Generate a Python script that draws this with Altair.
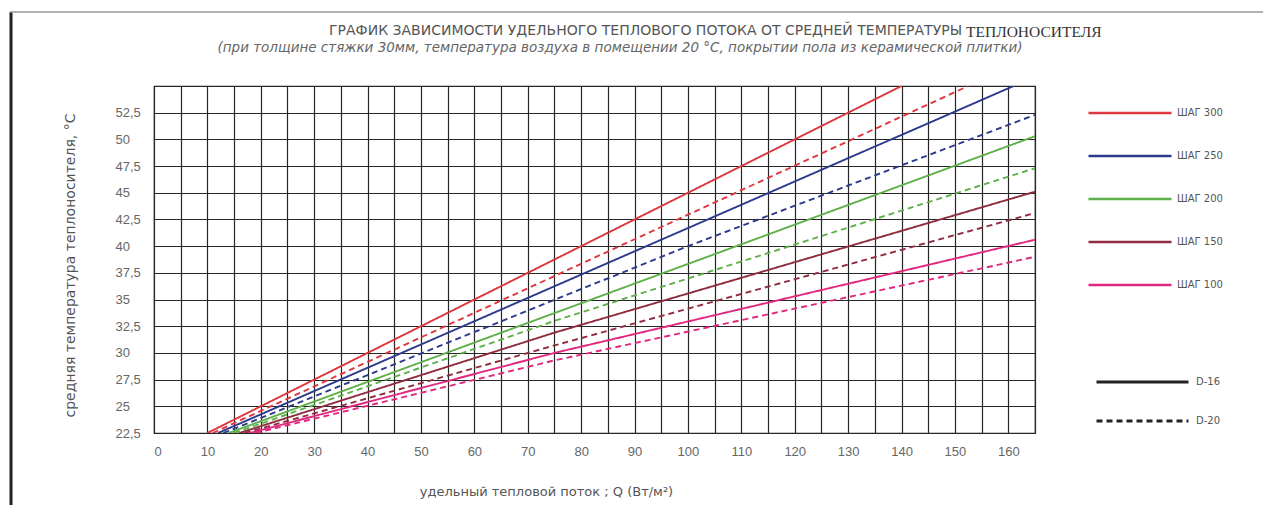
import altair as alt
import pandas as pd

# ---- data ----
steps = ["ШАГ 300", "ШАГ 250", "ШАГ 200", "ШАГ 150", "ШАГ 100"]
step_colors = ["#e0363e", "#2d3a8c", "#5fb04a", "#8f2c3e", "#e2277f"]
pipes = ["D-16", "D-20"]

x_ticks = list(range(0, 166, 5))
y_ticks = [22.5, 25, 27.5, 30, 32.5, 35, 37.5, 40, 42.5, 45, 47.5, 50, 52.5, 55]

q_300_d16 = [10, 140];        t_300_d16 = [22.5, 55.0]
q_300_d20 = [11, 152.5];      t_300_d20 = [22.5, 55.0]
q_250_d16 = [12, 161];        t_250_d16 = [22.5, 55.0]
q_250_d20 = [13, 100, 165];   t_250_d20 = [22.5, 40.0, 52.3]
q_200_d16 = [14, 165];        t_200_d16 = [22.5, 50.3]
q_200_d20 = [15, 75, 165];    t_200_d20 = [22.5, 33.0, 47.3]
q_150_d16 = [16, 75, 165];    t_150_d16 = [22.5, 31.9, 45.1]
q_150_d20 = [17, 75, 165];    t_150_d20 = [22.5, 30.7, 43.1]
q_100_d16 = [18, 75, 165];    t_100_d16 = [22.5, 30.0, 40.6]
q_100_d20 = [19, 75, 165];    t_100_d20 = [22.5, 29.3, 39.0]

title_main = "ГРАФИК ЗАВИСИМОСТИ УДЕЛЬНОГО ТЕПЛОВОГО ПОТОКА ОТ СРЕДНЕЙ ТЕМПЕРАТУРЫ"
title_tail = "ТЕПЛОНОСИТЕЛЯ"
subtitle = "(при толщине стяжки 30мм, температура воздуха в помещении 20 °С, покрытии пола из керамической плитки)"
x_title = "удельный тепловой поток ; Q (Вт/м²)"
y_title = "средняя температура теплоносителя, °С"

series = [
    ("ШАГ 300", "D-16", q_300_d16, t_300_d16),
    ("ШАГ 300", "D-20", q_300_d20, t_300_d20),
    ("ШАГ 250", "D-16", q_250_d16, t_250_d16),
    ("ШАГ 250", "D-20", q_250_d20, t_250_d20),
    ("ШАГ 200", "D-16", q_200_d16, t_200_d16),
    ("ШАГ 200", "D-20", q_200_d20, t_200_d20),
    ("ШАГ 150", "D-16", q_150_d16, t_150_d16),
    ("ШАГ 150", "D-20", q_150_d20, t_150_d20),
    ("ШАГ 100", "D-16", q_100_d16, t_100_d16),
    ("ШАГ 100", "D-20", q_100_d20, t_100_d20),
]
rows = []
for step, pipe, qs, ts in series:
    for q, t in zip(qs, ts):
        rows.append({"step": step, "pipe": pipe, "q": q, "t": t})
df = pd.DataFrame(rows)

W, H = 881, 347
PL, PT = 146, 78
PR = 1271 - 16 - PL - W
PB = 513 - 16 - PT - H

grid_color = "#262626"

lines = alt.Chart(df).mark_line(strokeWidth=1.9, clip=True).encode(
    x=alt.X("q:Q",
            scale=alt.Scale(domain=[0, 165], nice=False, zero=False),
            axis=alt.Axis(values=x_ticks,
                          labelExpr="datum.value % 10 == 0 && datum.value < 165 ? datum.label : ''",
                          grid=True, gridColor=grid_color, gridWidth=1.2,
                          ticks=False, domain=False, labelPadding=12,
                          labelFont="Liberation Sans", labelFontSize=13, labelColor="#666",
                          title=x_title, titleFont="DejaVu Sans", titleFontSize=13,
                          titleFontWeight="normal", titleColor="#555",
                          titleX=392, titleY=52)),
    y=alt.Y("t:Q",
            scale=alt.Scale(domain=[22.5, 55], nice=False, zero=False),
            axis=alt.Axis(values=y_ticks, format=".1~f",
                          labelExpr="datum.value < 54 ? replace(datum.label, '.', ',') : ''",
                          grid=True, gridColor=grid_color, gridWidth=1.2,
                          ticks=False, domain=False, labelAlign="left", labelPadding=39,
                          labelFont="Liberation Sans", labelFontSize=13, labelColor="#666",
                          title=y_title, titleFont="DejaVu Sans", titleFontSize=14,
                          titleFontWeight="normal", titleColor="#555",
                          titleX=-84, titleY=179, titleBaseline="middle")),
    color=alt.Color("step:N",
                    scale=alt.Scale(domain=steps, range=step_colors),
                    legend=alt.Legend(title=None, orient="none", legendX=933, legendY=20,
                                      symbolType="stroke", symbolSize=6889,
                                      symbolStrokeWidth=2.5, clipHeight=14, rowPadding=29,
                                      labelFont="DejaVu Sans", labelFontSize=10,
                                      labelColor="#555", labelOffset=4, padding=0)),
    strokeDash=alt.StrokeDash("pipe:N",
                              scale=alt.Scale(domain=pipes, range=[[1, 0], [6, 4]]),
                              legend=alt.Legend(title=None, orient="none", legendX=941, legendY=289,
                                                symbolType="stroke", symbolSize=8464,
                                                symbolStrokeColor="#222", symbolStrokeWidth=3,
                                                clipHeight=14, rowPadding=25,
                                                labelFont="DejaVu Sans", labelFontSize=10,
                                                labelColor="#555", labelOffset=6, padding=0)),
)

t1 = alt.Chart(pd.DataFrame({"s": [title_main]})).mark_text(
    align="right", baseline="middle", font="DejaVu Sans", fontSize=14, color="#555"
).encode(text="s:N", x=alt.value(808), y=alt.value(-55))

t2 = alt.Chart(pd.DataFrame({"s": [title_tail]})).mark_text(
    align="left", baseline="middle", font="Liberation Serif", fontSize=15.5, color="#333"
).encode(text="s:N", x=alt.value(812), y=alt.value(-54))

t3 = alt.Chart(pd.DataFrame({"s": [subtitle]})).mark_text(
    align="center", baseline="middle", font="DejaVu Sans", fontSize=13.5, fontStyle="italic", color="#666"
).encode(text="s:N", x=alt.value(466), y=alt.value(-38))

frame_left = alt.Chart(pd.DataFrame({"a": [0]})).mark_rule(color="#222", strokeWidth=3).encode(
    x=alt.value(-143), y=alt.value(-74), y2=alt.value(H + PB + 8))
frame_top = alt.Chart(pd.DataFrame({"a": [0]})).mark_rule(color="#999", strokeWidth=1.5).encode(
    x=alt.value(-144), x2=alt.value(W + PR + 8), y=alt.value(-74))

chart = alt.layer(lines, t1, t2, t3, frame_left, frame_top).properties(
    width=W, height=H,
    autosize=alt.AutoSizeParams(type="none"),
    padding={"left": PL, "top": PT, "right": PR, "bottom": PB},
    background="white",
).configure_view(stroke="#222", strokeWidth=1.2)

chart.save("out.html", embed_options={"renderer": "svg", "actions": False})
